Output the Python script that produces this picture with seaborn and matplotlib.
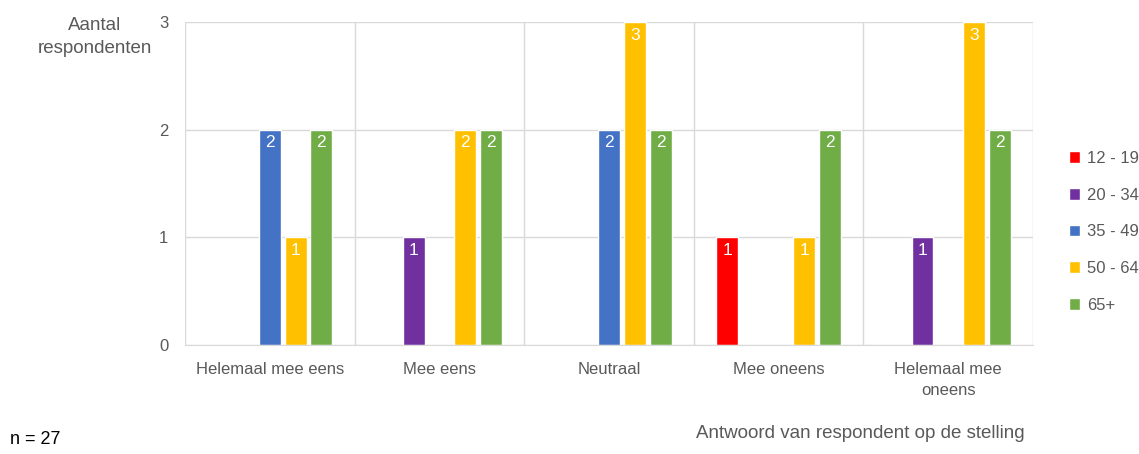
import numpy as np
import pandas as pd
import matplotlib
matplotlib.use("Agg")
import matplotlib.pyplot as plt
import seaborn as sns

# data
antwoorden = ["Helemaal mee eens", "Mee eens", "Neutraal", "Mee oneens", "Helemaal mee\noneens"]
leeftijden = ["12 - 19", "20 - 34", "35 - 49", "50 - 64", "65+"]
w_12_19 = [0, 0, 0, 1, 0]
w_20_34 = [0, 1, 0, 0, 1]
w_35_49 = [2, 0, 2, 0, 0]
w_50_64 = [1, 2, 3, 1, 3]
w_65plus = [2, 2, 2, 2, 2]
kleuren = ["#FF0000", "#7030A0", "#4472C4", "#FFC000", "#70AD47"]

reeksen = [w_12_19, w_20_34, w_35_49, w_50_64, w_65plus]
rows = []
for leeftijd, waarden in zip(leeftijden, reeksen):
    for antw, v in zip(antwoorden, waarden):
        rows.append({"antwoord": antw, "leeftijd": leeftijd, "aantal": v})
df = pd.DataFrame(rows)

sns.set_style("white")
plt.rcParams["font.family"] = ["Liberation Sans", "DejaVu Sans"]
grijs = "#595959"

fig = plt.figure(figsize=(11.39, 4.54), dpi=100)
ax = fig.add_axes([0.1624, 0.2401, 0.907 - 0.1624, 0.9515 - 0.2401])

sns.barplot(data=df, x="antwoord", y="aantal", hue="leeftijd",
            order=antwoorden, hue_order=leeftijden, palette=kleuren,
            width=0.76, gap=0.15, errorbar=None, saturation=1, ax=ax)

ax.set_ylim(0, 3)
ax.set_xlim(-0.5, 4.5)
ax.set_yticks([0, 1, 2, 3])
ax.set_xticks(np.arange(5))
ax.set_xticks(np.arange(-0.5, 5, 1), minor=True)
ax.tick_params(axis="x", which="minor", length=0)
ax.grid(axis="y", color="#d9d9d9", linewidth=1)
ax.grid(axis="x", which="minor", color="#d9d9d9", linewidth=1)
ax.set_axisbelow(True)
for s in ax.spines.values():
    s.set_visible(False)
ax.spines["bottom"].set_visible(True)
ax.spines["bottom"].set_color("#d9d9d9")
ax.tick_params(axis="both", length=0, labelsize=12, colors=grijs)
ax.tick_params(axis="x", pad=12)
ax.tick_params(axis="y", pad=12)
for lbl in ax.get_xticklabels():
    lbl.set_linespacing(1.55)
ax.set_xlabel("")
ax.set_ylabel("")

# waarden in de staven
for cont in ax.containers:
    for bar in cont:
        h = bar.get_height()
        if h > 0:
            ax.annotate(f"{int(h)}", (bar.get_x() + bar.get_width() / 2, h),
                        xytext=(0, -4), textcoords="offset points",
                        ha="center", va="top", color="white", fontsize=12.5)

leg = ax.legend(loc="center left", bbox_to_anchor=(1.034, 0.35), frameon=False,
                borderaxespad=0, handlelength=0.7, handleheight=0.7,
                handletextpad=0.4, labelspacing=1.3, fontsize=12)
for t in leg.get_texts():
    t.set_color(grijs)

fig.text(95 / 1139, 1 - 37 / 454, "Aantal\nrespondenten", ha="center", va="center",
         fontsize=13.5, color=grijs, linespacing=1.5)
fig.text(1025 / 1139, 1 - 433 / 454, "Antwoord van respondent op de stelling",
         ha="right", va="center", fontsize=13.5, color=grijs)
fig.text(10 / 1139, 1 - 440 / 454, "n = 27", ha="left", va="center",
         fontsize=13, color="black")

fig.savefig("out.png", dpi=100)
